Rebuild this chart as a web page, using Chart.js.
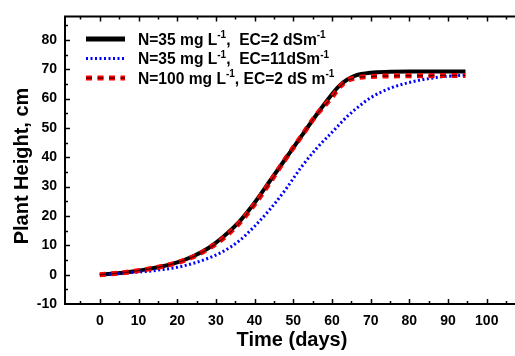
<!DOCTYPE html>
<html>
<head>
<meta charset="utf-8">
<script src="https://cdn.jsdelivr.net/npm/chart.js@4"></script>
<style>
  html, body { margin: 0; padding: 0; background: #fff; overflow: hidden; }
  canvas { display: block; }
</style>
</head>
<body>
<canvas id="growth-chart" width="515" height="356"></canvas>
<script>
// days after planting
const days = [0, 4, 8, 12, 16, 20, 24, 28, 32, 36, 40, 44, 48, 52, 56, 60, 62, 64, 66, 70, 75, 80, 85, 90, 94.5];

// plant height (cm) for each treatment
const heightN35EC2 = [0, 0.4, 1.0, 1.8, 2.8, 4.2, 6.2, 9.0, 13.0, 18.0, 24.5, 32, 39.5, 47, 54.5, 61.5, 64.5, 66.5, 67.8, 68.8, 69.1, 69.2, 69.2, 69.2, 69.2];
const heightN35EC11 = [0, 0.3, 0.7, 1.1, 1.7, 2.5, 3.8, 5.6, 8.0, 11.5, 16.5, 22.3, 29, 36.5, 43, 48.5, 51.3, 54, 56.3, 60.3, 63.5, 65.5, 66.8, 67.6, 68];
const heightN100EC2 = [0, 0.4, 1.0, 1.8, 2.8, 4.1, 6.0, 8.8, 12.5, 17.5, 24, 31.5, 39.5, 47, 54.5, 60.5, 64, 66.2, 67, 67.5, 67.7, 67.8, 67.8, 67.9, 67.9];

const xTicks = [0, 10, 20, 30, 40, 50, 60, 70, 80, 90, 100];
const yTicks = [-10, 0, 10, 20, 30, 40, 50, 60, 70, 80];

// legend text, pieces marked sup are drawn as superscripts
const legendLabels = [
    [["N=35 mg L"], ["-1", "sup"], [",  EC=2 dSm"], ["-1", "sup"]],
    [["N=35 mg L"], ["-1", "sup"], [",  EC=11dSm"], ["-1", "sup"]],
    [["N=100 mg L"], ["-1", "sup"], [", EC=2 dS m"], ["-1", "sup"]]
];

const FONT = "'Liberation Sans', Arial, sans-serif";

function toPoints(values) {
    return days.map((d, i) => ({ x: d, y: values[i] }));
}

// inward ticks, plot frame, axis titles and legend
const framePlugin = {
    id: "frame",
    afterDatasetsDraw(chart) {
        const { ctx, chartArea: a, scales } = chart;
        const x = scales.x, y = scales.y;
        ctx.save();
        ctx.strokeStyle = "#000";

        ctx.lineWidth = 1.5;
        for (let v = -5; v <= 105; v += 5) {
            const px = Math.round(x.getPixelForValue(v)) + 0.5;
            const len = v % 10 === 0 ? 5 : 3;
            ctx.beginPath();
            ctx.moveTo(px, a.bottom);
            ctx.lineTo(px, a.bottom - len);
            ctx.moveTo(px, a.top);
            ctx.lineTo(px, a.top + len);
            ctx.stroke();
        }
        for (let v = -5; v <= 85; v += 5) {
            const py = Math.round(y.getPixelForValue(v)) + 0.5;
            const len = v % 10 === 0 ? 5 : 3;
            ctx.beginPath();
            ctx.moveTo(a.left, py);
            ctx.lineTo(a.left + len, py);
            ctx.stroke();
        }

        ctx.lineWidth = 2;
        ctx.beginPath();
        ctx.moveTo(a.right + 2, a.top);
        ctx.lineTo(a.left, a.top);
        ctx.lineTo(a.left, a.bottom);
        ctx.lineTo(a.right + 2, a.bottom);
        ctx.stroke();
        ctx.restore();
    },
    afterDraw(chart) {
        const { ctx } = chart;
        ctx.save();
        ctx.fillStyle = "#000";

        // axis titles
        ctx.font = "bold 20px " + FONT;
        ctx.textAlign = "center";
        ctx.textBaseline = "middle";
        ctx.fillText("Time (days)", 292, 340);
        ctx.translate(22, 166);
        ctx.rotate(-Math.PI / 2);
        ctx.fillText("Plant Height, cm", 0, 0);
        ctx.setTransform(1, 0, 0, 1, 0, 0);

        // legend
        const rows = [39, 58.5, 78];
        chart.data.datasets.filter(ds => ds.legendRow !== undefined).forEach(ds => {
            const ry = rows[ds.legendRow];
            ctx.save();
            ctx.strokeStyle = ds.borderColor;
            ctx.lineWidth = ds.legendRow === 0 ? 5 : ds.borderWidth;
            ctx.setLineDash(ds.borderDash || []);
            ctx.beginPath();
            ctx.moveTo(86, ry);
            ctx.lineTo(125, ry);
            ctx.stroke();
            if (ds.legendRow === 2) {
                ctx.strokeStyle = "#5a0000";
                ctx.lineWidth = 1.5;
                ctx.stroke();
            }
            ctx.restore();
        });
        ctx.textAlign = "left";
        ctx.textBaseline = "alphabetic";
        legendLabels.forEach((parts, r) => {
            let tx = 138;
            const base = rows[r] + 5.5;
            parts.forEach(([text, kind]) => {
                if (kind === "sup") {
                    ctx.font = "bold 10px " + FONT;
                    ctx.fillText(text, tx, base - 6.5);
                } else {
                    ctx.font = "bold 15.6px " + FONT;
                    ctx.fillText(text, tx, base);
                }
                tx += ctx.measureText(text).width;
            });
        });
        ctx.restore();
    }
};

const ctx = document.getElementById("growth-chart").getContext("2d");

new Chart(ctx, {
    type: "line",
    data: {
        datasets: [
            {
                // dark core of the red dashes
                data: toPoints(heightN100EC2),
                borderColor: "#5a0000",
                borderWidth: 1.5,
                borderDash: [6, 5.5],
                order: 0
            },
            {
                label: "N=100 mg L-1, EC=2 dS m-1",
                data: toPoints(heightN100EC2),
                borderColor: "#ff0000",
                borderWidth: 5,
                borderDash: [6, 5.5],
                legendRow: 2,
                order: 1
            },
            {
                label: "N=35 mg L-1, EC=11dSm-1",
                data: toPoints(heightN35EC11),
                borderColor: "#0000ff",
                borderWidth: 3,
                borderDash: [2, 2.5],
                legendRow: 1,
                order: 2
            },
            {
                label: "N=35 mg L-1, EC=2 dSm-1",
                data: toPoints(heightN35EC2),
                borderColor: "#000000",
                borderWidth: 4,
                legendRow: 0,
                order: 3
            }
        ]
    },
    options: {
        responsive: false,
        animation: false,
        devicePixelRatio: 1,
        elements: {
            point: { radius: 0 },
            line: { cubicInterpolationMode: "monotone", borderCapStyle: "butt" }
        },
        layout: { padding: { top: 7, right: 0, left: 0, bottom: 0 } },
        plugins: {
            legend: { display: false },
            tooltip: { enabled: false }
        },
        scales: {
            x: {
                type: "linear",
                min: -9,
                max: 107.3,
                grid: { display: false, drawTicks: false },
                border: { display: false },
                ticks: {
                    color: "#000",
                    font: { family: FONT, size: 14, weight: "bold" },
                    padding: 9,
                    maxRotation: 0,
                    autoSkip: false
                },
                afterBuildTicks: s => { s.ticks = xTicks.map(v => ({ value: v })); },
                afterFit: s => { s.height = 52; }
            },
            y: {
                type: "linear",
                min: -10,
                max: 88,
                grid: { display: false, drawTicks: false },
                border: { display: false },
                ticks: {
                    color: "#000",
                    font: { family: FONT, size: 14, weight: "bold" },
                    padding: 8,
                    autoSkip: false
                },
                afterBuildTicks: s => { s.ticks = yTicks.map(v => ({ value: v })); },
                afterFit: s => { s.width = 65; }
            }
        }
    },
    plugins: [framePlugin]
});
</script>
</body>
</html>
